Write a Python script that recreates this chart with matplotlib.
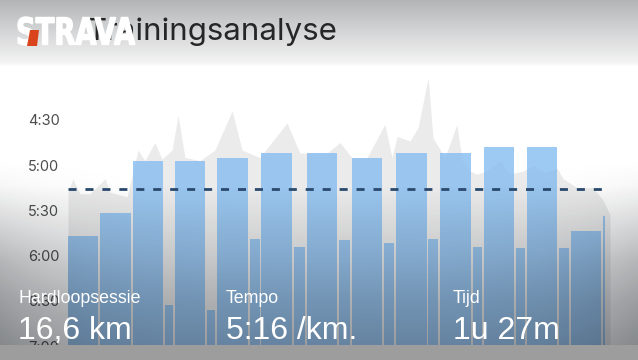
import numpy as np
import matplotlib
matplotlib.use('Agg')
import matplotlib.pyplot as plt
from matplotlib.textpath import TextPath
from matplotlib.patches import PathPatch, Polygon, Rectangle
from matplotlib.font_manager import FontProperties
import matplotlib.transforms as mtransforms

# splits: distance (km) and pace (seconds per km)
split_dist = [1.0, 1.0, 1.0, 0.31, 1.0, 0.31, 1.0, 0.37, 1.0, 0.40, 1.0, 0.40,
              1.0, 0.37, 1.0, 0.37, 1.0, 0.35, 1.0, 0.33, 1.0, 0.36, 1.0, 0.05]
split_pace = [347, 332, 297, 393, 297, 396, 295, 349, 292, 354, 292, 350,
              295, 352, 292, 349, 292, 354, 288, 355, 288, 355, 344, 334]

# pace trace behind the bars
profile_km = [0.00, 0.15, 0.37, 0.68, 1.15, 1.30, 1.83, 2.17, 2.38, 2.69, 2.91, 3.22,
              3.41, 3.62, 4.09, 4.55, 5.08, 5.39, 5.94, 6.78, 7.18, 8.02, 8.42, 8.79,
              9.26, 9.81, 10.03, 10.19, 10.59, 10.84, 11.15, 11.30, 11.67, 12.04, 12.20,
              12.45, 12.66, 12.97, 13.37, 13.68, 14.09, 14.40, 14.77, 15.14, 15.33,
              15.76, 16.25, 16.56, 16.78]
profile_pace = [318, 309, 319, 319, 309, 318, 321, 290, 297, 285, 296, 290,
                267, 295, 297, 290, 264, 290, 295, 272, 292, 292, 285, 295,
                295, 273, 295, 281, 284, 275, 242, 282, 295, 273, 297,
                304, 306, 304, 297, 306, 304, 300, 305, 302, 309,
                315, 315, 323, 333]

avg_pace = 316
tick_secs = [270, 300, 330, 360, 390, 420]
tick_labels = ["4:30", "5:00", "5:30", "6:00", "6:30", "7:00"]

stats = [("Hardloopsessie", "16,6 km"), ("Tempo", "5:16 /km."), ("Tijd", "1u 27m")]

W, H = 638, 360
fig = plt.figure(figsize=(W / 100, H / 100), dpi=100)
fig.patch.set_facecolor('white')

# ---- chart ----
ax = fig.add_axes([68 / W, (H - 346) / H, 552 / W, 276 / H], zorder=1)
ax.patch.set_alpha(0)
for s in ax.spines.values():
    s.set_visible(False)

ax.fill_between(profile_km, profile_pace, 420, color='#ebebeb', lw=0, zorder=1)

dist = np.array(split_dist)
pace = np.array(split_pace)
left = np.concatenate([[0], np.cumsum(dist)[:-1]])
widths = np.where(dist > 0.1, dist - 0.06, dist)
ax.bar(left, 420 - pace, bottom=pace, width=widths, align='edge',
       color='#82bbef', alpha=0.78, lw=0, zorder=2)

ax.plot([0, dist.sum()], [avg_pace, avg_pace], color='#2a4a6e', lw=2,
        dashes=(2.9, 3.2), zorder=3)

ax.set_xlim(0, 552 / 32.3)
ax.set_ylim(420, 236.9)
ax.set_xticks([])
ax.set_yticks(tick_secs)
ax.set_yticklabels(tick_labels, family='Inter')
ax.tick_params(axis='y', length=0, pad=28.8, labelsize=10.5, labelcolor='#4d4d4d')
for lbl in ax.get_yticklabels():
    lbl.set_horizontalalignment('left')

# ---- shading overlay (grey header + dark bottom) ----
ov = fig.add_axes([0, 0, 1, 1], zorder=2)
ov.set_axis_off()
yy = np.arange(H)
xx = np.arange(W)
a_v = np.interp(yy, [0, 30, 62, 66, 185, 250, 300, 345, 360],
                [0.31, 0.18, 0.05, 0.0, 0.0, 0.14, 0.27, 0.36, 0.38])
edge = ((xx - W / 2) / (W / 2)) ** 4
ramp = np.clip((yy - 160) / 100, 0, 1)
alpha = np.clip(a_v[:, None] + 0.14 * edge[None, :] * ramp[:, None], 0, 1)
img = np.zeros((H, W, 4))
img[..., 0] = 0.04
img[..., 1] = 0.06
img[..., 2] = 0.09
img[..., 3] = alpha
ov.imshow(img, extent=[0, W, H, 0], aspect='auto', interpolation='bilinear')
ov.set_xlim(0, W)
ov.set_ylim(H, 0)

to_fig = mtransforms.Affine2D().scale(1 / W, 1 / H) + fig.transFigure

# grey strip along the bottom edge
fig.add_artist(Rectangle((0, 0), W, H - 345, facecolor='#9d9d9d', lw=0,
                         transform=to_fig, zorder=3))

# ---- header ----
fig.text(87 / W, 1 - 40 / H, "Trainingsanalyse", family='Inter', fontsize=22.5,
         color='#262626', va='baseline', zorder=4)

tp = TextPath((0, 0), "STRAVA", size=1, prop=FontProperties(family='DejaVu Sans', weight='bold'))
bb = tp.get_extents()
tr = (mtransforms.Affine2D().translate(-bb.x0, -bb.y0)
      .scale(117 / bb.width, 28 / bb.height).translate(18, H - 45))
logo = PathPatch(tr.transform_path(tp), facecolor='white', edgecolor='white', lw=1.0,
                 transform=to_fig, zorder=5)
fig.add_artist(logo)
fig.add_artist(Polygon([(30, H - 30), (39, H - 30), (37, H - 46), (27, H - 46)],
                       closed=True, facecolor='#d9441c', lw=0,
                       transform=to_fig, zorder=6))

# ---- stats ----
for (label, value), x in zip(stats, [18, 226, 453]):
    fig.text(x / W, 1 - 303 / H, label, family='Liberation Sans', fontsize=12.8,
             color='white', va='baseline', zorder=7)
    fig.text(x / W, 1 - 339 / H, value, family='Liberation Sans', fontsize=23,
             color='white', va='baseline', zorder=7)

fig.savefig('out.png', dpi=100)
